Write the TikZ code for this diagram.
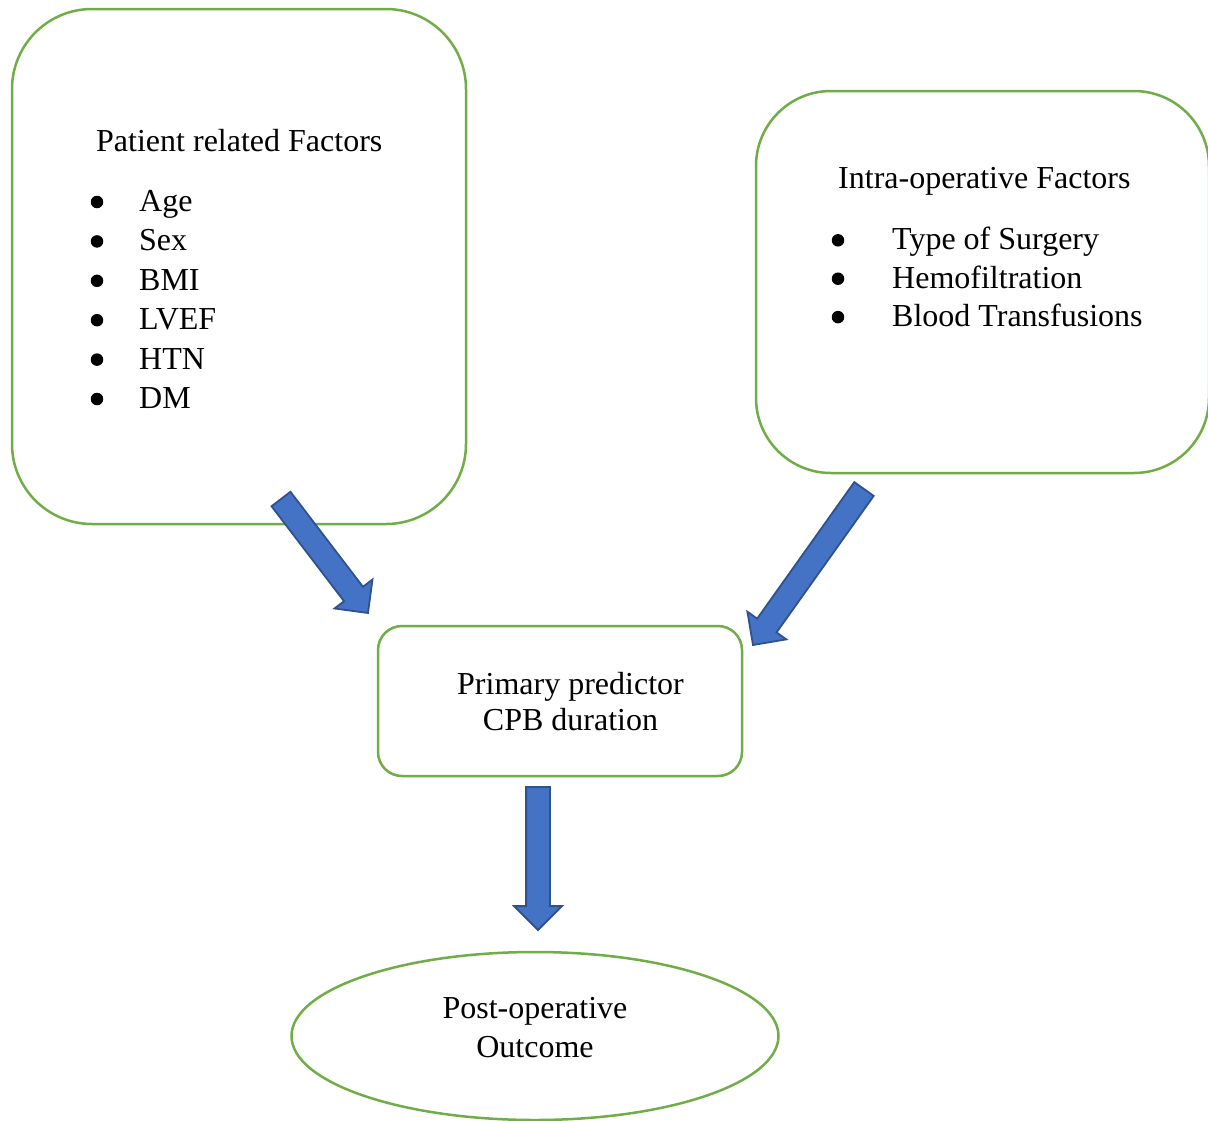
\documentclass[tikz,border=0pt]{standalone}
\usepackage{fontspec}
\setmainfont{Liberation Serif}
\usetikzlibrary{shapes.arrows,shapes.geometric,calc}
\definecolor{boxgreen}{HTML}{70AD47}
\definecolor{arrfill}{HTML}{4472C4}
\definecolor{arrline}{HTML}{2F528F}
\tikzset{
  greenbox/.style={draw=boxgreen, line width=2.5pt, rectangle, inner sep=0pt},
  txt/.style={font=\fontsize{32}{38}\selectfont, inner sep=0pt},
  bul/.style={fill=black, circle, inner sep=0pt, minimum size=12.5pt},
  barrow/.style={single arrow, draw=arrline, fill=arrfill, line width=1.8pt,
    inner sep=0pt, outer sep=0pt, inner ysep=11pt, single arrow head extend=12pt,
    single arrow tip angle=90, single arrow head indent=0pt}
}
\newcommand\blockarrow[2]{%
  \path let \p1=($(#2)-(#1)$), \n1={atan2(\y1,\x1)}, \n2={veclen(\x1,\y1)} in
    node[barrow, rotate=\n1, minimum height=\n2, anchor=tail] at (#1) {};}
\begin{document}
\begin{tikzpicture}[x=1pt,y=-1pt]
\useasboundingbox (0,0) rectangle (1208,1120);
% boxes
\node[greenbox, rounded corners=80pt, minimum width=454pt, minimum height=515pt] (left) at (239,266.5) {};
\node[greenbox, rounded corners=75pt, minimum width=453pt, minimum height=382pt] (right) at (982.5,282) {};
\node[greenbox, rounded corners=24pt, minimum width=364pt, minimum height=150pt] (mid) at (560,701) {};
\node[draw=boxgreen, line width=2.5pt, ellipse, inner sep=0pt, minimum width=487pt, minimum height=168pt] (outc) at (535,1036) {};
% left text
\node[txt, anchor=base west] (lt) at (96,151.5) {Patient related Factors};
\foreach \t [count=\i from 0] in {Age,Sex,BMI,LVEF,HTN,DM}{
  \node[txt, anchor=base west] (l\i) at (139,{211.5+39.4*\i}) {\t};
  \node[bul] (lb\i) at (97,{202+39.4*\i}) {};
}
% right text
\node[txt, anchor=base west] (rt) at (838,188.2) {Intra-operative Factors};
\foreach \t [count=\i from 0] in {Type of Surgery,Hemofiltration,Blood Transfusions}{
  \node[txt, anchor=base west] (r\i) at (892,{249.8+38.4*\i}) {\t};
  \node[bul] (rb\i) at (838,{240.3+38.4*\i}) {};
}
% middle text
\node[txt, anchor=base] (m1) at (570.5,694) {Primary predictor};
\node[txt, anchor=base] (m2) at (570.5,730) {CPB duration};
% outcome text
\node[txt, anchor=base] (o1) at (535,1018.5) {Post-operative};
\node[txt, anchor=base] (o2) at (535,1057) {Outcome};
% arrows
\coordinate (a1s) at (281,499); \coordinate (a1e) at (368,613);
\coordinate (a2s) at (864,489); \coordinate (a2e) at (753,645);
\coordinate (a3s) at (538,787); \coordinate (a3e) at (538,930);
\blockarrow{a1s}{a1e}
\blockarrow{a2s}{a2e}
\blockarrow{a3s}{a3e}
\end{tikzpicture}
\end{document}
